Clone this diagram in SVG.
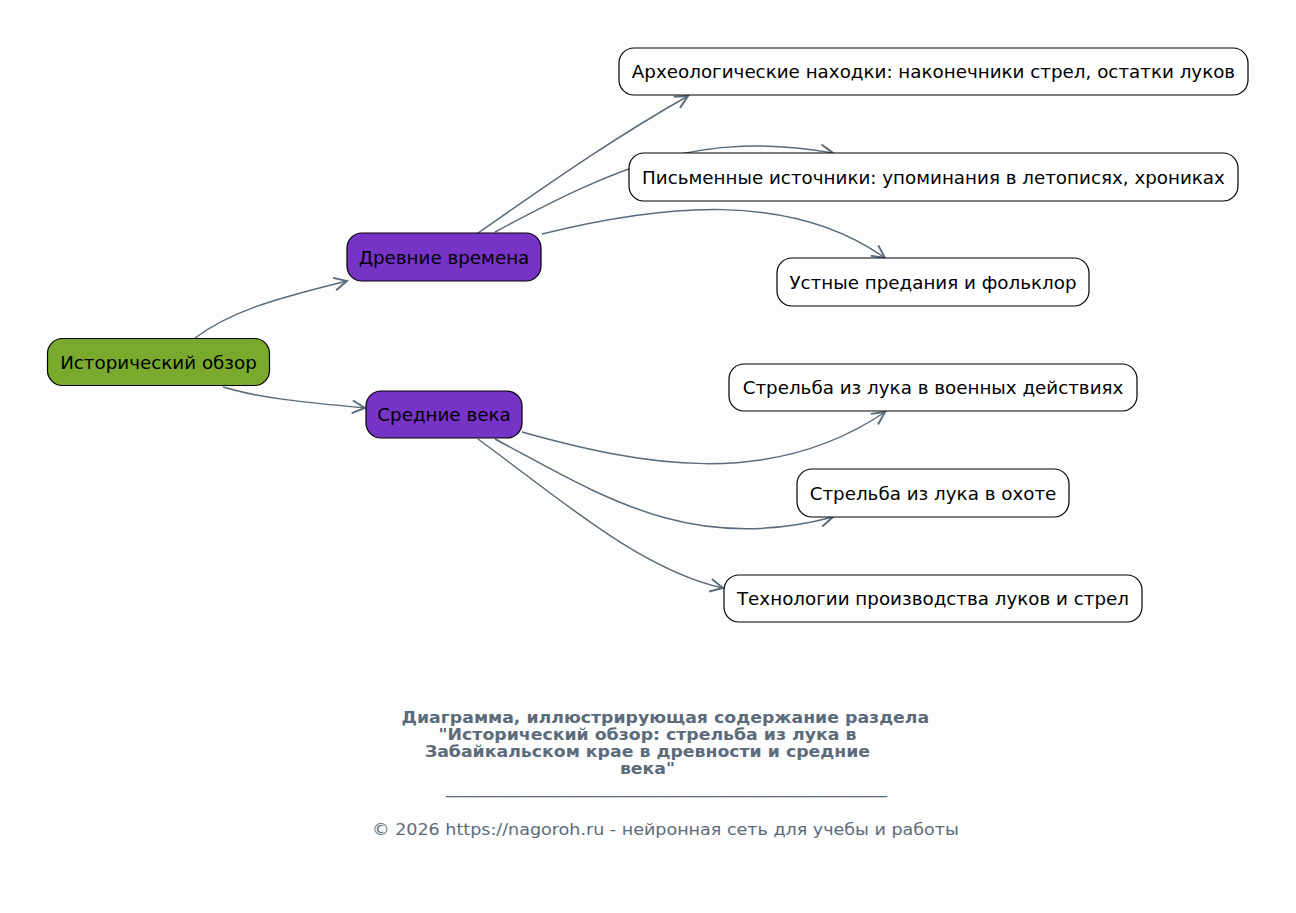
<svg xmlns="http://www.w3.org/2000/svg" width="1296" height="913" viewBox="0 0 1296 913">
<defs>
<style>
.n rect{stroke:#000;stroke-width:1.2}
.n text{font-family:"DejaVu Sans",sans-serif;font-size:18.3px;fill:#000;text-anchor:middle;dominant-baseline:central}
.leaf rect{fill:#fff}
.lvl1 rect{fill:#7733c6}
.root rect{fill:#79aa2e}
#edges path{fill:none;stroke:#5c6b7a;stroke-width:1.5;marker-end:url(#arr)}
.cap{font-family:"DejaVu Sans",sans-serif;fill:#5c6b7a;text-anchor:middle}
</style>
<marker id="arr" viewBox="0 0 20 20" refX="18" refY="10" markerWidth="16" markerHeight="16" markerUnits="userSpaceOnUse" orient="auto">
<path d="M2,2 L18,10 L2,18" fill="none" stroke="#5c6b7a" stroke-width="2.4"/>
</marker>
</defs>
<rect width="1296" height="913" fill="#fdfdfd"/>
<g id="edges">
<path d="M195,338 C230,312 270,300 347,281"/>
<path d="M223,387 C260,398 300,402 365,408"/>
<path d="M478,233 C540,190 610,140 688,96"/>
<path d="M495,232 C620,165 700,130 833,153"/>
<path d="M542,234 C660,205 790,190 885,258"/>
<path d="M522,432 C640,465 770,490 885,412"/>
<path d="M495,439 C600,495 690,555 833,517"/>
<path d="M478,439 C555,495 640,570 723,588"/>
</g>
<g id="n-root" class="n root"><rect x="47.5" y="338.5" width="222" height="47" rx="15"/><text x="158.5" y="362">Исторический обзор</text></g>
<g id="n-ancient" class="n lvl1"><rect x="347" y="233" width="194" height="48" rx="15"/><text x="444" y="257">Древние времена</text></g>
<g id="n-middle" class="n lvl1"><rect x="366" y="391" width="156" height="47" rx="15"/><text x="444" y="414.5">Средние века</text></g>
<g id="n-arch" class="n leaf"><rect x="619" y="48" width="629" height="47" rx="15"/><text x="933.5" y="71.5">Археологические находки: наконечники стрел, остатки луков</text></g>
<g id="n-written" class="n leaf"><rect x="629" y="153" width="609" height="48" rx="15"/><text x="933.5" y="177">Письменные источники: упоминания в летописях, хрониках</text></g>
<g id="n-oral" class="n leaf"><rect x="777" y="258" width="312" height="48" rx="15"/><text x="933" y="282">Устные предания и фольклор</text></g>
<g id="n-war" class="n leaf"><rect x="729" y="364" width="408" height="47" rx="15"/><text x="933" y="387.5">Стрельба из лука в военных действиях</text></g>
<g id="n-hunt" class="n leaf"><rect x="797" y="469" width="272" height="48" rx="15"/><text x="933" y="493">Стрельба из лука в охоте</text></g>
<g id="n-tech" class="n leaf"><rect x="724" y="575" width="418" height="47" rx="15"/><text x="933" y="598.5">Технологии производства луков и стрел</text></g>
<g id="caption">
<text class="cap" font-size="15" font-weight="bold" transform="scale(1.155,1)"><tspan x="576.1" y="723.5">Диаграмма, иллюстрирующая содержание раздела</tspan><tspan x="560.6" y="740.3">"Исторический обзор: стрельба из лука в</tspan><tspan x="560.6" y="757.1">Забайкальском крае в древности и средние</tspan><tspan x="560.6" y="774">века"</tspan></text>
<text class="cap" x="666.5" y="793" font-size="16" textLength="441" lengthAdjust="spacingAndGlyphs">__________________________________________________</text>
<text class="cap" x="607.2" y="835" font-size="16" transform="scale(1.096,1)">© 2026 https://nagoroh.ru - нейронная сеть для учебы и работы</text>
</g>
</svg>
